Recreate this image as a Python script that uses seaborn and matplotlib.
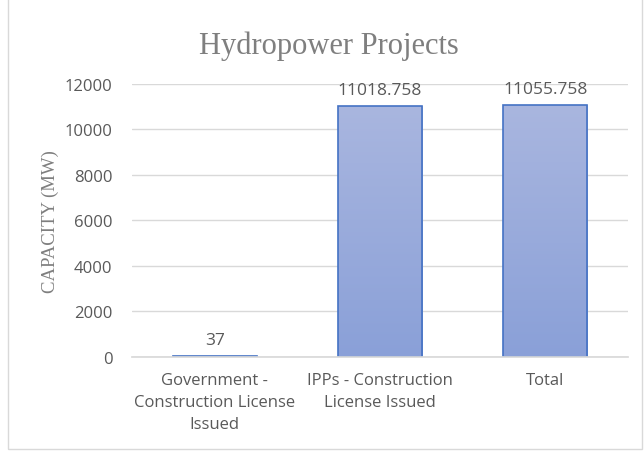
import matplotlib
matplotlib.use("Agg")
import matplotlib.pyplot as plt
import seaborn as sns
import numpy as np
import pandas as pd
from matplotlib.patches import Rectangle
from matplotlib.colors import LinearSegmentedColormap

categories = ["Government -\nConstruction License\nIssued",
              "IPPs - Construction\nLicense Issued",
              "Total"]
values = [37, 11018.758, 11055.758]
value_labels = ["37", "11018.758", "11055.758"]
yticks = [0, 2000, 4000, 6000, 8000, 10000, 12000]

sns.set_theme(style="white")
plt.rcParams['font.family'] = ['Open Sans', 'DejaVu Sans']

df = pd.DataFrame({"cat": categories, "val": values})

fig = plt.figure(figsize=(6.44, 4.52), dpi=100)
ax = fig.add_axes([0.205, 0.208, 0.77, 0.604])
sns.barplot(data=df, x="cat", y="val", ax=ax, width=0.51,
            color="#97A9DB", edgecolor="#4472C4", linewidth=1.2, saturation=1)

# gradient fill
grad = np.linspace(0, 1, 256).reshape(-1, 1)
cmap = LinearSegmentedColormap.from_list("g", ["#8AA0D8", "#A9B6DF"])
for p in ax.patches:
    x0, y0 = p.get_x(), p.get_y()
    w, h = p.get_width(), p.get_height()
    im = ax.imshow(grad, extent=[x0, x0 + w, y0, y0 + h], origin="lower",
                   aspect="auto", cmap=cmap, zorder=p.get_zorder() - 0.1)
    im.set_clip_path(p)
    p.set_facecolor("none")

ax.set_xlim(-0.5, 2.5)
ax.set_ylim(0, 12000)
ax.set_yticks(yticks)
ax.set_yticklabels([str(t) for t in yticks])
ax.grid(axis="y", color="#D9D9D9", linewidth=1)
ax.set_axisbelow(True)
for s in ["top", "right", "left"]:
    ax.spines[s].set_visible(False)
ax.spines["bottom"].set_color("#D9D9D9")
ax.tick_params(axis="y", length=0, colors="#595959", labelsize=12, pad=14)
ax.tick_params(axis="x", length=0, colors="#595959", labelsize=12, pad=11)
for lbl in ax.get_xticklabels():
    lbl.set_linespacing(1.5)

for i, (v, t) in enumerate(zip(values, value_labels)):
    ax.annotate(t, (i, v), xytext=(0, 6), textcoords="offset points",
                ha="center", va="bottom", fontsize=12.5, color="#595959")

ax.set_xlabel("")
ax.set_ylabel("CAPACITY (MW)", family="Liberation Serif", fontsize=13.5,
              color="#7F7F7F", labelpad=4)
fig.text(0.51, 0.898, "Hydropower Projects", family="Liberation Serif",
         fontsize=22, color="#7F7F7F", ha="center", va="center")

fig.patches.append(Rectangle((0.012, 0.004), 0.985, 1.2, transform=fig.transFigure,
                             fill=False, edgecolor="#D9D9D9", linewidth=1))

fig.savefig("out.png", dpi=100)
